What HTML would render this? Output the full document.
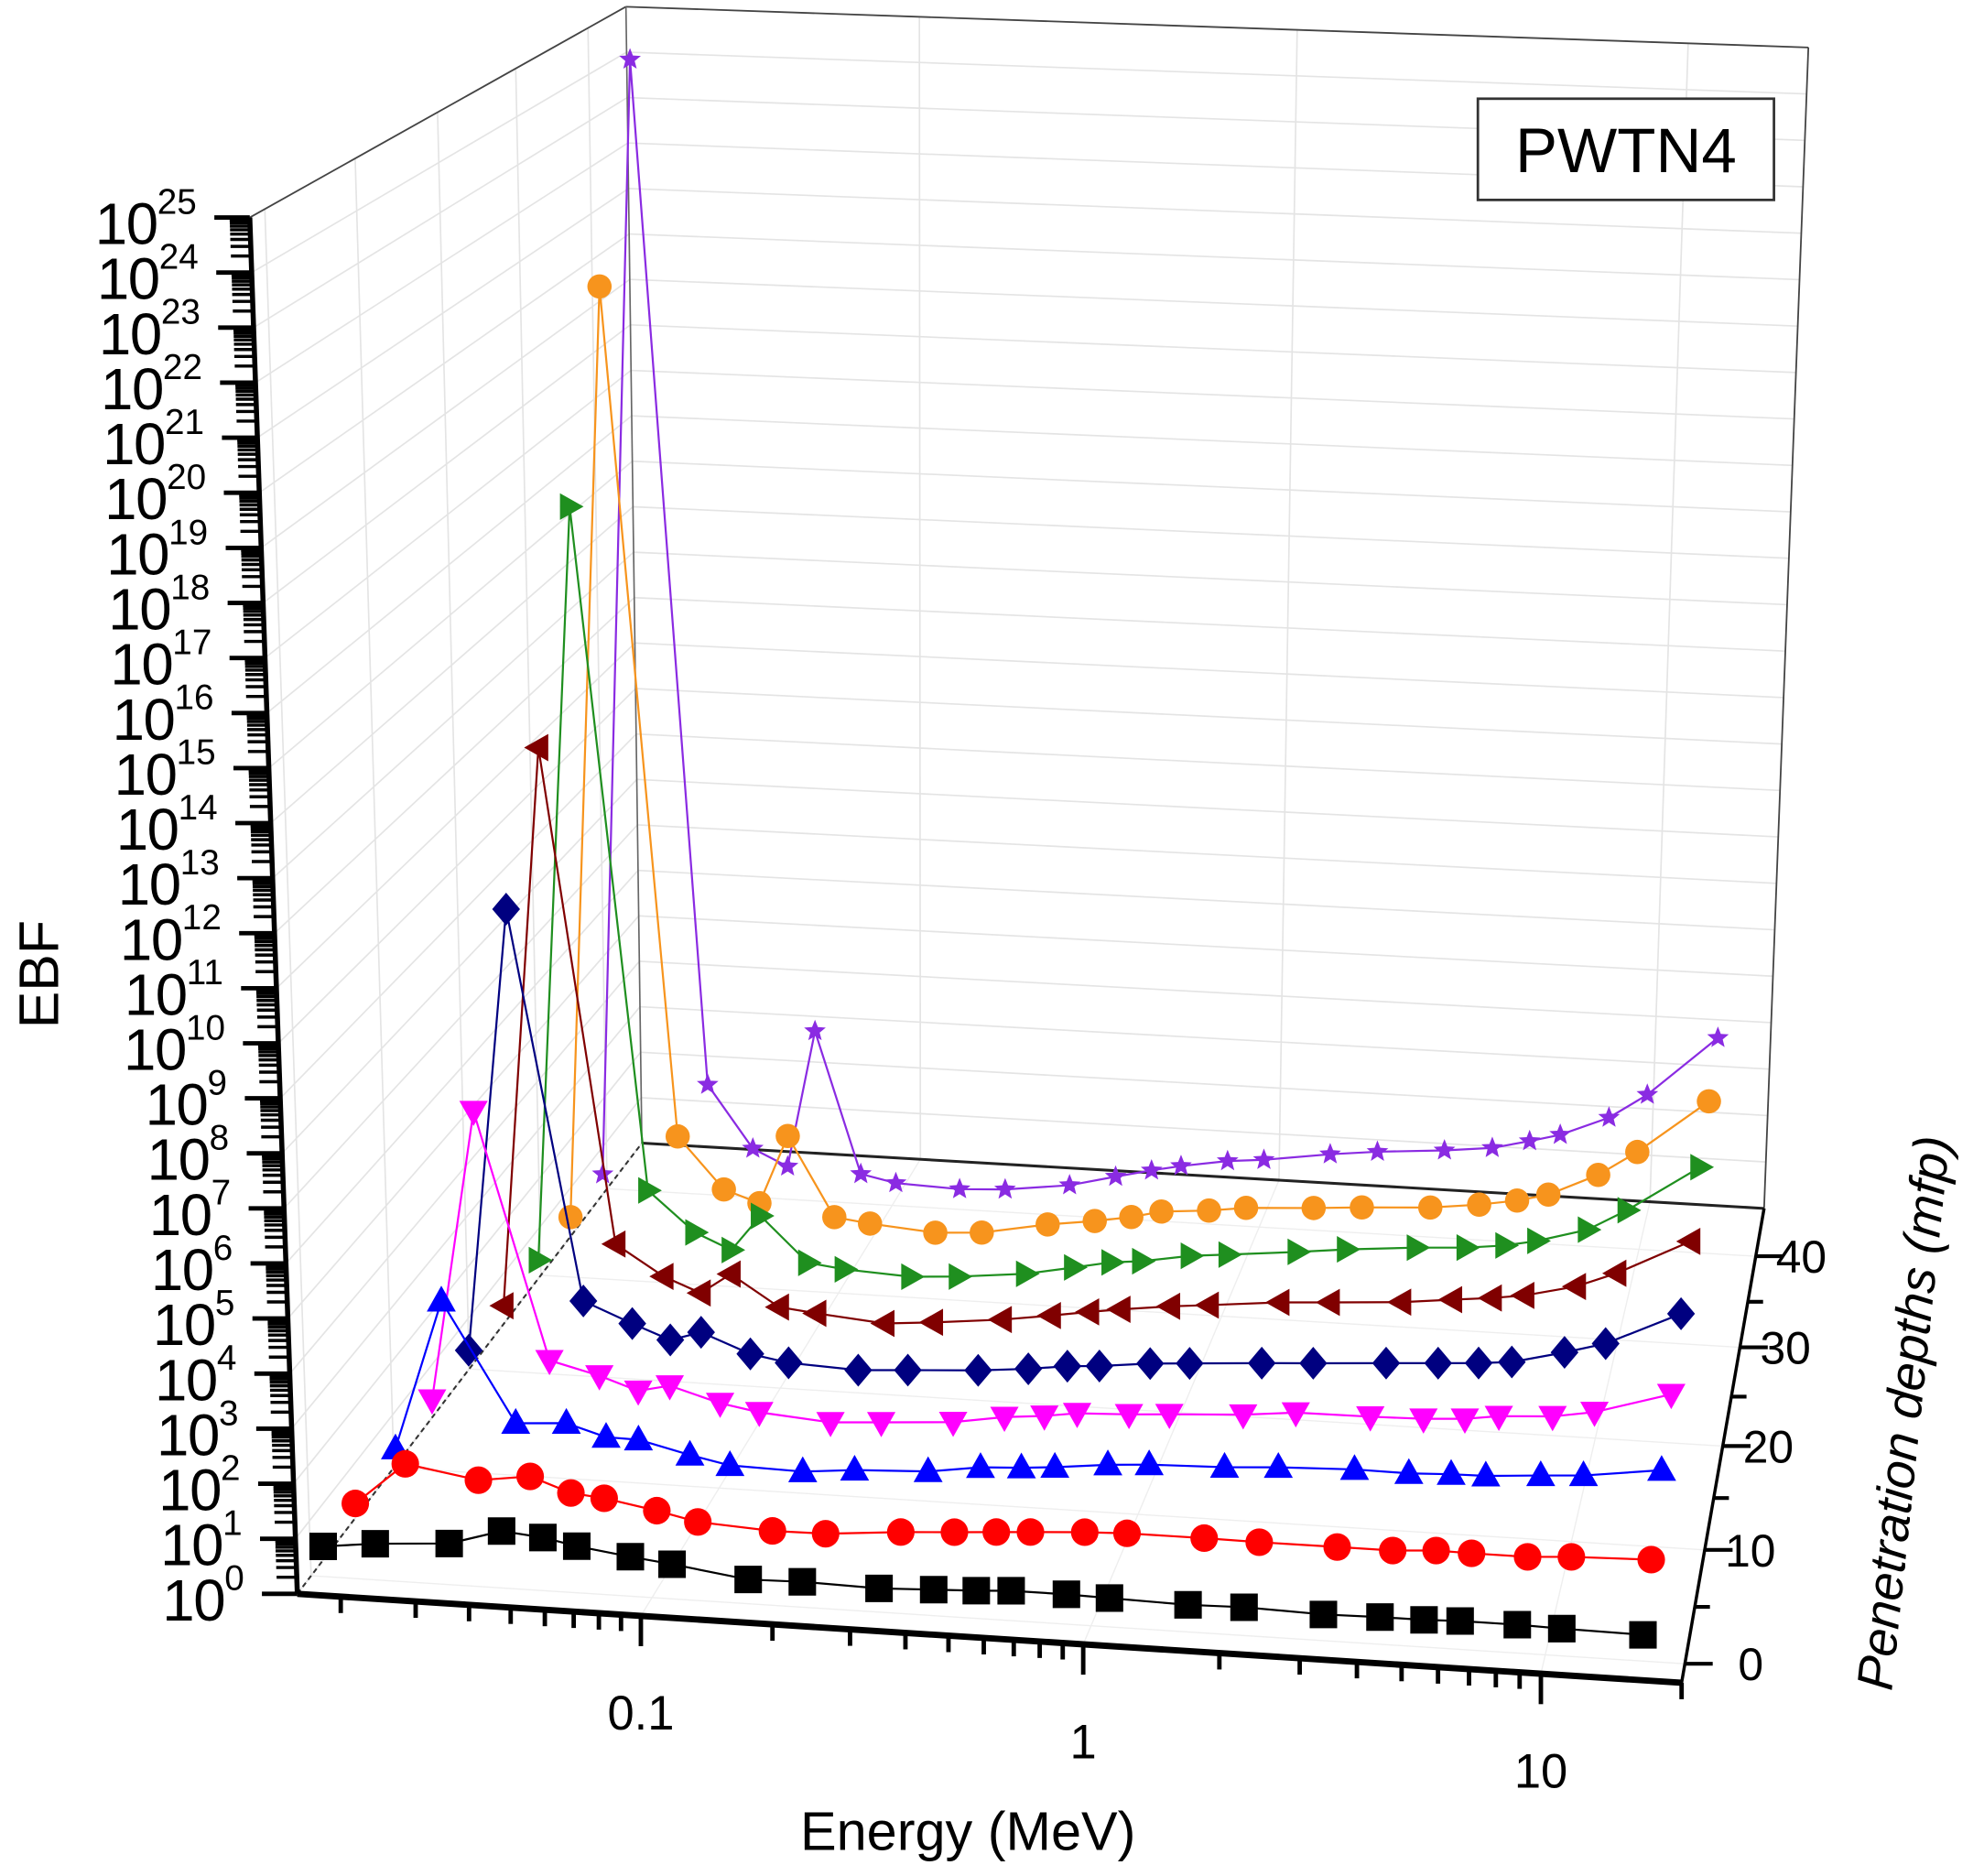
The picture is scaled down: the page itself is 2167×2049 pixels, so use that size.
<!DOCTYPE html>
<html><head><meta charset="utf-8"><title>PWTN4 EBF</title>
<style>
html,body{margin:0;padding:0;background:#fff;}
svg{display:block;font-family:"Liberation Sans",Arial,sans-serif;}
</style></head>
<body>
<svg id="chart" xmlns="http://www.w3.org/2000/svg" width="2167" height="2049" viewBox="0 0 1568 1482.6">
  <rect x="0" y="0" width="1568" height="1483" fill="#fff"/>
  <g id="grid"></g>
  <g id="frame"></g>
  <g id="axes"></g>
  <g id="series"></g>
  <text x="0" y="0" transform="translate(46,770) rotate(-90)" text-anchor="middle" font-size="44">EBF</text>
  <text x="765" y="1462" text-anchor="middle" font-size="43">Energy (MeV)</text>
  <text x="0" y="0" transform="translate(1518,1118) rotate(-84)" text-anchor="middle" font-size="40" font-style="italic">Penetration depths (mfp)</text>
  <g>
    <rect x="1168" y="78" width="234" height="80" fill="#fff" stroke="#333" stroke-width="2"/>
    <text x="1285" y="136" text-anchor="middle" font-size="50">PWTN4</text>
  </g>
</svg>
<script>
// ---- data ----
const energies = [0.015,0.02,0.03,0.04,0.05,0.06,0.08,0.1,0.15,0.2,0.3,0.4,0.5,0.6,0.8,1,1.5,2,3,4,5,6,8,10,15];
const depths = [1,5,10,15,20,25,30,35,40];
const ebfBlack   = [2.14,2.75,3.39,6.61,5.62,4.27,3.16,2.57,1.66,1.74,1.62,1.78,1.91,2.09,2.09,2.0,1.86,1.95,1.78,1.86,1.86,1.95,1.95,1.86,1.78];
const ebfRed     = [2.14,13.5,8.13,11.0,6.03,5.25,3.55,2.45,2.04,2.09,2.75,3.16,3.55,3.89,4.47,4.79,4.79,4.68,4.68,4.68,5.25,5.13,5.13,5.75,6.31];
const ebfBlue    = [2.24,1700,9.55,11.0,6.61,6.46,3.80,2.69,2.51,3.09,3.55,4.90,5.37,6.03,7.76,8.71,9.55,11.0,12.3,12.0,12.9,13.2,15.5,17.4,26.9];
const ebfMagenta = [2.24,1.07e6,18.2,10.5,5.89,8.13,4.27,3.16,2.45,2.82,3.47,5.01,5.89,7.24,7.94,8.91,10.7,13.5,13.8,14.5,16.2,20.0,22.9,30.9,83.2];
const ebfNavy    = [2.29,1.55e9,30.2,12.3,6.46,10.0,4.27,3.16,2.75,3.16,3.80,4.68,5.89,6.46,8.32,9.33,11.5,13.2,16.2,18.6,20.9,24.0,42.7,70.8,331];
const ebfMaroon  = [2.09,5.01e11,51.3,12.9,6.61,17.4,4.27,3.55,2.69,3.24,4.47,6.17,8.13,10.0,13.2,15.5,21.4,24.5,30.2,38.9,46.8,57.5,100,204,1070];
const ebfGreen   = [2.0,9.12e15,75.9,11.7,5.62,30.9,3.80,3.09,2.63,3.02,4.17,6.46,9.12,10.5,15.5,18.2,25.1,32.4,42.7,49.0,60.3,81.3,158,437,3980];
const ebfOrange  = [2.0,1.0e20,138,12.0,6.76,191,4.27,3.47,2.69,3.09,5.50,7.41,10.0,14.1,17.0,21.4,25.7,30.2,36.3,47.9,64.6,93.3,275,912,12300];
const ebfPurple  = [2.0,2.24e24,229,11.0,5.01,4370,4.27,3.02,2.69,3.02,4.47,7.76,11.7,15.8,22.9,26.9,42.7,55.0,70.8,91.2,141,209,550,1860,35500];
const xTickLabels = ["0.1","1","10"];
const xTickValues = [0.1,1,10];
const zTickValues = [0,10,20,30,40];
const yDecades = [0,1,2,3,4,5,6,7,8,9,10,11,12,13,14,15,16,17,18,19,20,21,22,23,24,25];

// ---- projection (oblique 3D box) ----
const NS = "http://www.w3.org/2000/svg";
const E_MIN = 0.0158, E_MAX = 20, D_FRONT = -1.5, D_BACK = 45.5, V_MAX = 25;
function xf(L){ return 857 + 355*L + 6*L*L; }
function uOf(E){ return (xf(Math.log10(E)) - 228) / 1102; }
const tD = [-1.5,0,10,20,30,40,45.5], tT = [0,0.04,0.28,0.499,0.707,0.899,1];
function tOf(d){
  for (let i=0;i<tD.length-1;i++){ if (d<=tD[i+1]) return tT[i]+(tT[i+1]-tT[i])*(d-tD[i])/(tD[i+1]-tD[i]); }
  return 1;
}
function plane(o, e, vl, vr, u, v){
  return [o[0]+u*(e[0]-o[0]) + v*(vl[0]+u*(vr[0]-vl[0])),
          o[1]+u*(e[1]-o[1]) + v*(vl[1]+u*(vr[1]-vl[1]))];
}
function P(E, v, d){
  const u = uOf(E), t = tOf(d);
  const f = plane([226,1259],[1330,1330],[-1.52,-43.5],[0.5,-44.3],u,v);
  const b = plane([500,903],[1395,955],[-0.52,-35.92],[1.4,-36.7],u,v);
  return [f[0]*(1-t)+b[0]*t, f[1]*(1-t)+b[1]*t];
}
function mk(tag, attrs, parent){
  const el = document.createElementNS(NS, tag);
  for (const k in attrs) el.setAttribute(k, attrs[k]);
  parent.appendChild(el); return el;
}
const gGrid = document.getElementById('grid');
const gFrame = document.getElementById('frame');
const gAxes = document.getElementById('axes');
const gSeries = document.getElementById('series');
function line(p, q, stroke, w, parent, dash){
  const l = mk('line',{x1:p[0].toFixed(1),y1:p[1].toFixed(1),x2:q[0].toFixed(1),y2:q[1].toFixed(1),stroke:stroke,'stroke-width':w},parent);
  if (dash) l.setAttribute('stroke-dasharray', dash);
  return l;
}

// ---- grid ----
const GC = "#e4e4e4";
yDecades.forEach(n => {
  const a = line(P(E_MIN,n,D_FRONT), P(E_MIN,n,D_BACK), GC, 1.2, gGrid);
  
  
  const b = line(P(E_MIN,n,D_BACK), P(E_MAX,n,D_BACK), GC, 1.2, gGrid);
  
  
});
zTickValues.forEach(d => {
  const a = line(P(E_MIN,0,d), P(E_MIN,V_MAX,d), GC, 1.2, gGrid);
  
  
  const b = line(P(E_MIN,0,d), P(E_MAX,0,d), "#eeeeee", 1, gGrid);
  
  
});
xTickValues.forEach(e => {
  const a = line(P(e,0,D_BACK), P(e,V_MAX,D_BACK), GC, 1.2, gGrid);
  
  
  const b = line(P(e,0,D_FRONT), P(e,0,D_BACK), "#eeeeee", 1, gGrid);
  
  
});

// ---- frame ----
const frameEdges = [
  [P(E_MIN,V_MAX,D_FRONT), P(E_MIN,V_MAX,D_BACK), "#444", 1.3, null],
  [P(E_MIN,V_MAX,D_BACK), P(E_MAX,V_MAX,D_BACK), "#444", 1.3, null],
  [P(E_MAX,V_MAX,D_BACK), P(E_MAX,0,D_BACK), "#444", 1.3, null],
  [P(E_MIN,V_MAX,D_BACK), P(E_MIN,0,D_BACK), "#666", 1.2, null],
  [P(E_MIN,0,D_BACK), P(E_MAX,0,D_BACK), "#222", 2.2, null],
  [P(E_MIN,0,D_FRONT), P(E_MIN,0,D_BACK), "#333", 1.5, "4,3"]
];
frameEdges.forEach(fe => {
  const l = line(fe[0], fe[1], fe[2], fe[3], gFrame, fe[4]);
  
  
});

// ---- y axis (EBF) ----
const yAxisLine = line(P(E_MIN,0,D_FRONT), P(E_MIN,V_MAX,D_FRONT), "#000", 4, gAxes);


yDecades.forEach(n => {
  const p = P(E_MIN,n,D_FRONT);
  const tk = line(p, [p[0]-28,p[1]], "#000", 3.5, gAxes);
  
  
  if (n < 25) {
    for (let m=2;m<=9;m++){
      const q = P(E_MIN, n+Math.log10(m), D_FRONT);
      const mt = line(q, [q[0]-16,q[1]], "#000", 2.5, gAxes);
      
      
    }
  }
  const tx = mk('text',{x:(p[0]-42).toFixed(1), y:(p[1]+21).toFixed(1), 'text-anchor':'end', 'font-size':46, 'letter-spacing':'-1'}, gAxes);
  
  
  const t1 = mk('tspan',{}, tx); t1.textContent = "10";
  const t2 = mk('tspan',{'font-size':28, dy:'-24', 'letter-spacing':'0'}, tx); t2.textContent = String(n);
});

// ---- x axis (Energy) ----
const xAxisLine = line(P(E_MIN,0,D_FRONT), P(E_MAX,0,D_FRONT), "#000", 5, gAxes);


for (let dec=-2; dec<=1; dec++){
  for (let m=1;m<=9;m++){
    const e = m*Math.pow(10,dec);
    if (e < E_MIN || e > E_MAX) continue;
    const p = P(e,0,D_FRONT);
    const len = (m===1) ? 24 : 13;
    const tk = line(p, [p[0],p[1]+len], "#000", 3.5, gAxes);
    
    
  }
}
xTickValues.forEach((e,i) => {
  const p = P(e,0,D_FRONT);
  const tx = mk('text',{x:p[0].toFixed(1), y:(p[1]+90).toFixed(1), 'text-anchor':'middle', 'font-size':38}, gAxes);
  
  
  tx.textContent = xTickLabels[i];
});

// ---- z axis (depth) ----
const zAxisLine = line(P(E_MAX,0,D_FRONT), P(E_MAX,0,D_BACK), "#000", 2.5, gAxes);


for (let d=0; d<=40; d+=5){
  const p = P(E_MAX,0,d);
  const major = (d % 10 === 0);
  const tk = line(p, [p[0]+(major?22:12), p[1]], "#000", 3, gAxes);
  
  
}
zTickValues.forEach(d => {
  const p = P(E_MAX,0,d);
  const tx = mk('text',{x:(p[0]+(d===0?52:36)).toFixed(1), y:(p[1]+13).toFixed(1), 'text-anchor':'middle', 'font-size':36}, gAxes);
  
  
  tx.textContent = String(d);
});

// ---- series ----
const seriesList = [
  {name:'depth-40-purple', vals:ebfPurple, color:'#8a2be2', shape:'star', d:depths[8]},
  {name:'depth-35-orange', vals:ebfOrange, color:'#f7941d', shape:'circle', d:depths[7]},
  {name:'depth-30-green', vals:ebfGreen, color:'#1f8f1f', shape:'right', d:depths[6]},
  {name:'depth-25-maroon', vals:ebfMaroon, color:'#800000', shape:'left', d:depths[5]},
  {name:'depth-20-navy', vals:ebfNavy, color:'#000080', shape:'diamond', d:depths[4]},
  {name:'depth-15-magenta', vals:ebfMagenta, color:'#ff00ff', shape:'down', d:depths[3]},
  {name:'depth-10-blue', vals:ebfBlue, color:'#0000ff', shape:'up', d:depths[2]},
  {name:'depth-5-red', vals:ebfRed, color:'#ff0000', shape:'circle', d:depths[1]},
  {name:'depth-1-black', vals:ebfBlack, color:'#000000', shape:'square', d:depths[0]}
];
function markerPath(shape, x, y, r){
  switch(shape){
    case 'square': return `M${x-r},${y-r}h${2*r}v${2*r}h${-2*r}Z`;
    case 'up': return `M${x},${y-r*1.15}L${x+r*1.1},${y+r*0.8}L${x-r*1.1},${y+r*0.8}Z`;
    case 'down': return `M${x},${y+r*1.15}L${x+r*1.1},${y-r*0.8}L${x-r*1.1},${y-r*0.8}Z`;
    case 'left': return `M${x-r*1.15},${y}L${x+r*0.8},${y-r*1.1}L${x+r*0.8},${y+r*1.1}Z`;
    case 'right': return `M${x+r*1.15},${y}L${x-r*0.8},${y-r*1.1}L${x-r*0.8},${y+r*1.1}Z`;
    case 'diamond': return `M${x},${y-r*1.3}L${x+r*1.1},${y}L${x},${y+r*1.3}L${x-r*1.1},${y}Z`;
    case 'star': {
      let s=''; for(let i=0;i<10;i++){ const a=-Math.PI/2+i*Math.PI/5; const rr=(i%2===0)?r*1.15:r*0.5;
        s += (i===0?'M':'L') + (x+rr*Math.cos(a)).toFixed(1)+','+(y+rr*Math.sin(a)).toFixed(1); }
      return s+'Z';
    }
  }
  return '';
}
seriesList.forEach(s => {
  const g = mk('g',{}, gSeries);
  
  
  const tt = tOf(s.d);
  const shiftX = 2 + 9.5*(1-tt);
  const pts = energies.map((e,i) => {
    const p = P(e, Math.log10(s.vals[i]), s.d);
    return [p[0] + shiftX, p[1]];
  });
  const pl = mk('polyline',{points:pts.map(p=>p[0].toFixed(1)+','+p[1].toFixed(1)).join(' '), fill:'none', stroke:s.color, 'stroke-width':1.6}, g);
  
  
  const r = 11 - 2*tt;
  pts.forEach(p => {
    let m;
    if (s.shape === 'circle') {
      m = mk('circle',{cx:p[0].toFixed(1), cy:p[1].toFixed(1), r:(r*1.02).toFixed(1), fill:s.color}, g);
    } else {
      m = mk('path',{d:markerPath(s.shape, p[0], p[1], s.shape==='star'? r*0.85 : r), fill:s.color}, g);
    }
    
    
  });
});
</script>
</body></html>
